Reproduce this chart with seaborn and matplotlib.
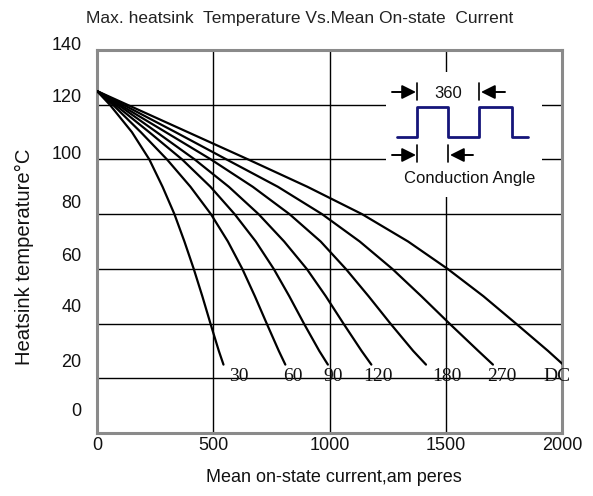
import numpy as np
import pandas as pd
import matplotlib
matplotlib.use("Agg")
import matplotlib.pyplot as plt
import seaborn as sns
from matplotlib.transforms import ScaledTranslation, blended_transform_factory

# ---------------- data ----------------
angles = ["30", "60", "90", "120", "180", "270", "DC"]
temp_levels = [125, 120, 110, 100, 90, 80, 70, 60, 50, 40, 30, 25]
current_30 = [0, 55, 150, 225, 282, 333, 376, 416, 453, 488, 524, 544]
current_60 = [0, 68, 188, 301, 402, 490, 563, 625, 679, 730, 782, 810]
current_90 = [0, 78, 224, 366, 488, 592, 683, 760, 827, 890, 956, 993]
current_120 = [0, 90, 256, 420, 567, 695, 805, 902, 984, 1060, 1138, 1180]
current_180 = [0, 99, 295, 490, 670, 828, 962, 1070, 1168, 1262, 1360, 1415]
current_270 = [0, 113, 337, 557, 778, 968, 1130, 1270, 1395, 1516, 1640, 1703]
current_dc = [0, 130, 390, 650, 905, 1140, 1338, 1508, 1662, 1802, 1940, 2005]
label_x = [609, 842, 1015, 1209, 1503, 1741, 1978]
label_y = 20.6
xtick_values = [0, 500, 1000, 1500, 2000]
ytick_values = [0, 20, 40, 60, 80, 100, 120, 140]

currents = [current_30, current_60, current_90, current_120,
            current_180, current_270, current_dc]
rows = []
for a, cur in zip(angles, currents):
    for i_val, t_val in zip(cur, temp_levels):
        rows.append({"angle": a, "current": i_val, "temp": t_val})
df = pd.DataFrame(rows)

# ---------------- styling ----------------
sns.set_theme(style="white")
plt.rcParams['font.family'] = ['Liberation Sans', 'DejaVu Sans']

W, H = 593, 496
fig = plt.figure(figsize=(W / 100, H / 100), dpi=100)
fig.patch.set_facecolor("white")
ax = fig.add_axes([97 / W, 1 - 433 / H, 465 / W, 383 / H])

sns.lineplot(data=df, x="current", y="temp", hue="angle", hue_order=angles,
             palette=["black"] * len(angles), estimator=None, sort=False,
             legend=False, linewidth=1.6, ax=ax, zorder=3)

ax.set_xlim(0, 2000)
ax.set_ylim(0, 140)
ax.set_xticks(xtick_values)
ax.set_yticks(ytick_values)
ax.set_yticklabels([])
ax.grid(True, color="black", linewidth=1.0)
ax.set_axisbelow(True)
ax.tick_params(axis="both", length=0)
ax.tick_params(axis="x", pad=3, labelsize=13, labelcolor="#111111")
for s in ax.spines.values():
    s.set_color("#8a8a8a")
    s.set_linewidth(2.2)
ax.set_xlabel("")
ax.set_ylabel("")

# y tick labels, drawn slightly above their grid lines as in the reference
ytick_raise_px = [21, 16, 16, 12, 11, 5.3, 7, 4.3]
blend = blended_transform_factory(ax.transAxes, ax.transData)
for v, r in zip(ytick_values, ytick_raise_px):
    ax.text(-0.033, v, str(v), ha="right", va="center", fontsize=13,
            color="#111111",
            transform=blend + ScaledTranslation(0, r / 100, fig.dpi_scale_trans))

# curve labels
for a, lx in zip(angles, label_x):
    ax.text(lx, label_y, a, ha="center", va="center", fontsize=14,
            family=["Liberation Serif", "DejaVu Serif"], color="#111111", zorder=4)

# titles / axis labels
fig.text(300 / W, 1 - 18 / H, "Max. heatsink  Temperature Vs.Mean On-state  Current",
         ha="center", va="center", fontsize=12.5, color="#222222",
         family=["Liberation Sans Narrow", "Liberation Sans"])
fig.text(334 / W, 1 - 478 / H, "Mean on-state current,am peres",
         ha="center", va="center", fontsize=13, color="#111111")
fig.text(24 / W, 1 - 257 / H, "Heatsink temperature°C", rotation=90,
         ha="center", va="center", fontsize=14.6, color="#111111")

# inset: conduction-angle diagram
ins = fig.add_axes([386 / W, 1 - 197 / H, 156 / W, 125 / H])
ins.set_facecolor("white")
ins.set_xlim(386, 542)
ins.set_ylim(197, 72)
ins.set_xticks([])
ins.set_yticks([])
for s in ins.spines.values():
    s.set_visible(False)
wave_x = [397, 417, 417, 448, 448, 479, 479, 512, 512, 528]
wave_y = [137, 137, 107, 107, 137, 137, 107, 107, 137, 137]
ins.plot(wave_x, wave_y, color="#15157a", lw=2.0)
for bx, y0, y1 in [(417, 83, 100), (479, 83, 100), (417, 145, 162), (448, 145, 162)]:
    ins.plot([bx, bx], [y0, y1], color="black", lw=1.2)
arrow_kw = dict(arrowstyle="-|>,head_length=0.7,head_width=0.35", color="black",
                lw=1.4, shrinkA=0, shrinkB=0, mutation_scale=12)
for (x0, y0, x1, y1) in [(392, 92, 416, 92), (505, 92, 481, 92),
                         (392, 155, 416, 155), (473, 155, 450, 155)]:
    ins.annotate("", xy=(x1, y1), xytext=(x0, y0), arrowprops=arrow_kw)
ins.text(448, 93, "360", ha="center", va="center", fontsize=12, color="#111111")
ins.text(470, 178, "Conduction Angle", ha="center", va="center", fontsize=12,
         color="#111111")

fig.savefig("out.png", dpi=100)
